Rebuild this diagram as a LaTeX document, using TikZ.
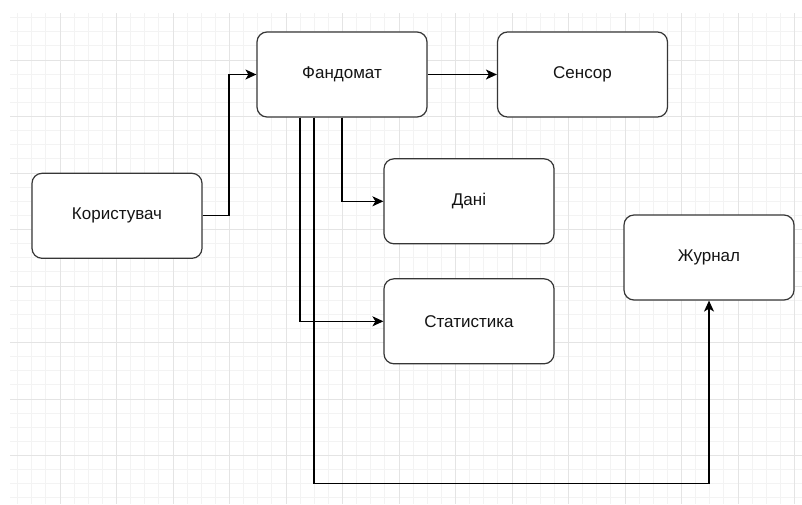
\documentclass[tikz,border=0pt]{standalone}
\usepackage{fontspec}
\setmainfont{Liberation Sans}
\usetikzlibrary{arrows.meta}

\definecolor{gridminor}{HTML}{F3F3F3}
\definecolor{gridmajor}{HTML}{E4E4E4}
\definecolor{boxline}{HTML}{363636}

\tikzset{
  block/.style={draw=boxline, line width=1.2pt, fill=white,
    rounded corners=10pt, minimum width=170pt, minimum height=85pt,
    inner sep=0pt, font=\fontsize{17}{20}\selectfont, text=black!92},
  link/.style={draw=black, line width=1.3pt,
    -{Stealth[length=11pt, width=10pt, inset=3pt]}}
}

\begin{document}
\begin{tikzpicture}[x=1pt, y=-1pt]
  \useasboundingbox (0,0) rectangle (802,504);
  \fill[white] (0,0) rectangle (802,504);

  % background grid: fine lines every 14.125, strong lines every 56.5
  \begin{scope}
    \clip (10,13) rectangle (802,504);
    \foreach \i in {0,...,57} {
      \draw[gridminor, line width=0.9pt] (3.5+\i*14.125, 13) -- (3.5+\i*14.125, 504);
    }
    \foreach \i in {0,...,35} {
      \draw[gridminor, line width=0.9pt] (10, 3.5+\i*14.125) -- (802, 3.5+\i*14.125);
    }
    \foreach \i in {0,...,14} {
      \draw[gridmajor, line width=1pt] (3.5+\i*56.5, 13) -- (3.5+\i*56.5, 504);
    }
    \foreach \i in {0,...,9} {
      \draw[gridmajor, line width=1pt] (10, 3.5+\i*56.5) -- (802, 3.5+\i*56.5);
    }
  \end{scope}

  % blocks
  \node[block] (fand)  at (342, 74.5)  {Фандомат};
  \node[block] (sens)  at (582.5, 74.5) {Сенсор};
  \node[block] (user)  at (117, 215.8) {Користувач};
  \node[block] (dani)  at (469, 201.3) {Дані};
  \node[block] (stat)  at (469, 321.3) {Статистика};
  \node[block] (zhur)  at (709, 257.5) {Журнал};

  % routing points
  \coordinate (ubend) at (229, 0);
  \coordinate (low)   at (0, 483.3);
  \coordinate (fstat) at ([xshift=-42pt]fand.south);
  \coordinate (fzhur) at ([xshift=-28pt]fand.south);

  % connectors
  \draw[link] (user.east) -- (user.east -| ubend) -- (fand.west -| ubend) -- (fand.west);
  \draw[link] (fand.east) -- (sens.west);
  \draw[link] (fand.south) |- (dani.west);
  \draw[link] (fstat) |- (stat.west);
  \draw[link] (fzhur) -- (fzhur |- low) -- (low -| zhur.south) -- (zhur.south);
\end{tikzpicture}
\end{document}
